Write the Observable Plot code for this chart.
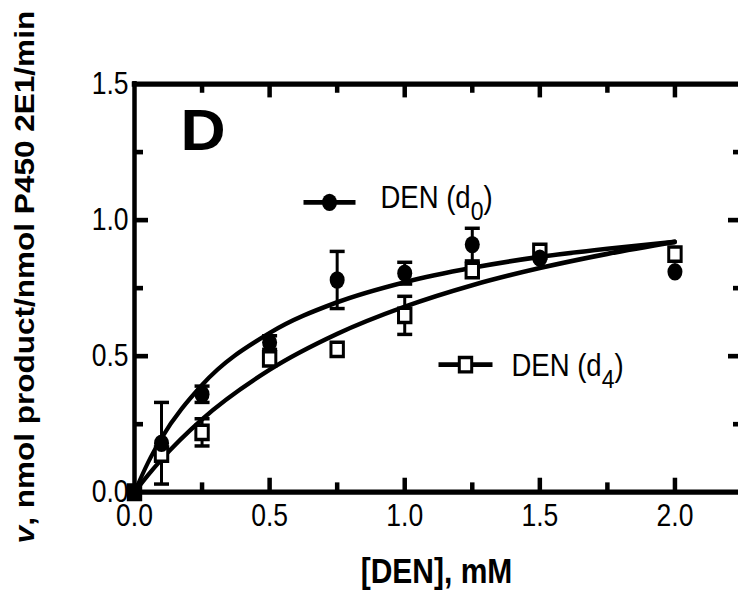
<!DOCTYPE html>
<html>
<head>
<meta charset="utf-8">
<script src="https://cdn.jsdelivr.net/npm/d3@7"></script>
<script src="https://cdn.jsdelivr.net/npm/@observablehq/plot@0.6"></script>
<style>
html, body { margin: 0; padding: 0; background: #fff; overflow: hidden; }
</style>
</head>
<body>
<div id="chart"></div>
<script>
// ---- data ----
const concentrations = [0, 0.1, 0.25, 0.5, 0.75, 1.0, 1.25, 1.5, 2.0];
const d0Mean = [0, 0.18, 0.36, 0.55, 0.78, 0.805, 0.91, 0.86, 0.81];
const d0Err  = [0, 0.15, 0.03, 0.025, 0.105, 0.04, 0.06, 0, 0];
const d4Mean = [0, 0.14, 0.22, 0.49, 0.525, 0.65, 0.815, 0.885, 0.875];
const d4Err  = [0, 0, 0.05, 0, 0, 0.07, 0, 0, 0];

const fitX  = [0, 0.05, 0.1, 0.25, 0.5, 0.75, 1.0, 1.25, 1.5, 1.75, 2.0];
const d0Fit = [0, 0.109, 0.199, 0.394, 0.585, 0.698, 0.772, 0.825, 0.865, 0.895, 0.92];
const d4Fit = [0, 0.063, 0.121, 0.268, 0.45, 0.582, 0.682, 0.761, 0.824, 0.876, 0.92];

const xTickLabels = [0, 0.5, 1.0, 1.5, 2.0];
const yTickLabels = [0, 0.5, 1.0, 1.5];
const xMajorTicks = [0.5, 1.0, 1.5, 2.0];
const xMinorTicks = [0.25, 0.75, 1.25, 1.75];
const yMajorTicks = [0.5, 1.0];
const yMinorTicks = [0.25, 0.75, 1.25];
const seriesLabels = ["DEN (d0)", "DEN (d4)"];
const panelLetter = "D";
const xTitle = "[DEN], mM";
const yTitle = "v, nmol product/nmol P450 2E1/min";

// ---- layout ----
const W = 738, H = 514;           // drawn, then stretched vertically to 596
const mL = 134, mT = 72, mB = 90, mR = 0;
const frameH = H - mT - mB, frameW = W - mL - mR;

const d0 = concentrations.map((x, i) => ({x, y: d0Mean[i], e: d0Err[i]}));
const d4 = concentrations.map((x, i) => ({x, y: d4Mean[i], e: d4Err[i]}));
const f0 = fitX.map((x, i) => ({x, y: d0Fit[i]}));
const f4 = fitX.map((x, i) => ({x, y: d4Fit[i]}));
const errs = [...d0, ...d4].filter(d => d.e > 0);

const hbar = {draw(ctx, size) { const w = Math.sqrt(size / Math.PI); ctx.moveTo(-w, 0); ctx.lineTo(w, 0); }};
const fmt = d3.format(".1f");

const svg = Plot.plot({
  width: W, height: H,
  marginLeft: mL, marginTop: mT, marginBottom: mB, marginRight: mR,
  style: {fontFamily: "'Liberation Sans', Arial, Helvetica, sans-serif", color: "black", background: "white"},
  x: {domain: [0, 2.25], range: [mL, 742], label: null},
  y: {domain: [0, 1.5], label: null},
  marks: [
    Plot.axisX(xTickLabels, {tickSize: 0, tickPadding: 10, tickFormat: fmt, fontSize: 26.5, label: null}),
    Plot.axisY(yTickLabels, {tickSize: 0, tickPadding: 6, tickFormat: fmt, fontSize: 26.5, label: null}),
    // frame
    Plot.ruleY([0, 1.5], {y: d => d, strokeWidth: 4.5, strokeLinecap: "square"}),
    Plot.ruleX([0], {x: d => d, strokeWidth: 4.5, strokeLinecap: "square"}),
    // inward ticks
    Plot.ruleX(xMajorTicks, {x: d => d, insetTop: frameH - 12, strokeWidth: 4.5}),
    Plot.ruleX(xMinorTicks, {x: d => d, insetTop: frameH - 8, strokeWidth: 4.5}),
    Plot.ruleX(xMajorTicks, {x: d => d, insetBottom: frameH - 12, strokeWidth: 4.5}),
    Plot.ruleX(xMinorTicks, {x: d => d, insetBottom: frameH - 8, strokeWidth: 4.5}),
    Plot.ruleY(yMajorTicks, {y: d => d, insetRight: frameW - 14, strokeWidth: 4}),
    Plot.ruleY(yMinorTicks, {y: d => d, insetRight: frameW - 9, strokeWidth: 4}),
    Plot.ruleY(yMajorTicks, {y: d => d, insetLeft: frameW - 10, strokeWidth: 4}),
    Plot.ruleY(yMinorTicks, {y: d => d, insetLeft: frameW - 5, strokeWidth: 4}),
    // fitted curves
    Plot.line(f0, {x: "x", y: "y", curve: "monotone-x", strokeWidth: 4}),
    Plot.line(f4, {x: "x", y: "y", curve: "monotone-x", strokeWidth: 4}),
    // error bars
    Plot.ruleX(errs, {x: "x", y1: d => d.y - d.e, y2: d => d.y + d.e, strokeWidth: 3}),
    Plot.dot(errs, {x: "x", y: d => d.y + d.e, symbol: hbar, r: 7.5, stroke: "black", fill: "none", strokeWidth: 3}),
    Plot.dot(errs, {x: "x", y: d => d.y - d.e, symbol: hbar, r: 7.5, stroke: "black", fill: "none", strokeWidth: 3}),
    // points
    Plot.dot(d4, {x: "x", y: "y", symbol: "square", r: 7, fill: "white", stroke: "black", strokeWidth: 3}),
    Plot.dot(d0, {x: "x", y: "y", symbol: "circle", r: 7.5, fill: "black", stroke: "none"}),
    // legend d0
    Plot.dot([seriesLabels[0]], {frameAnchor: "top-left", dx: 195, dy: 102, symbol: hbar, r: 26, stroke: "black", fill: "none", strokeWidth: 4}),
    Plot.dot([seriesLabels[0]], {frameAnchor: "top-left", dx: 195, dy: 102, symbol: "circle", r: 7.5, fill: "black", stroke: "none"}),
    Plot.text([seriesLabels[0]], {frameAnchor: "top-left", dx: 246, dy: 87.6, lineAnchor: "top", textAnchor: "start", fontSize: 27.5}),
    // legend d4
    Plot.dot([seriesLabels[1]], {frameAnchor: "top-left", dx: 331, dy: 242, symbol: hbar, r: 27, stroke: "black", fill: "none", strokeWidth: 4}),
    Plot.dot([seriesLabels[1]], {frameAnchor: "top-left", dx: 331, dy: 242, symbol: "square", r: 7, fill: "white", stroke: "black", strokeWidth: 3}),
    Plot.text([seriesLabels[1]], {frameAnchor: "top-left", dx: 377, dy: 232.4, lineAnchor: "top", textAnchor: "start", fontSize: 27.5}),
    // panel letter
    Plot.text([panelLetter], {frameAnchor: "top-left", dx: 46, dy: 21, lineAnchor: "top", textAnchor: "start", fontSize: 50, fontWeight: "bold"}),
    // axis titles
    Plot.text([xTitle], {frameAnchor: "bottom", dx: 0, dy: 57, lineAnchor: "top", textAnchor: "middle", fontSize: 30, fontWeight: "bold"}),
    Plot.text([yTitle], {frameAnchor: "left", rotate: -90, dx: 24.3 - mL, dy: -9.5, textAnchor: "middle", lineAnchor: "middle", fontSize: 27.2, fontWeight: "bold"})
  ]
});

// stretch vertically like the reference figure
svg.setAttribute("preserveAspectRatio", "none");
svg.style.width = "738px";
svg.style.height = "596px";
svg.style.maxWidth = "none";

// rich text: subscripts, italic v, wide panel letter
d3.select(svg).selectAll("text").each(function () {
  const t = this.textContent;
  const s = d3.select(this);
  const m = t.match(/^DEN \(d(\d)\)$/);
  if (m) {
    s.text(null);
    s.append("tspan").text("DEN (d");
    s.append("tspan").attr("font-size", 23).attr("dy", 10).text(m[1]);
    s.append("tspan").attr("dy", -10).text(")");
  } else if (t === yTitle) {
    s.text(null);
    s.append("tspan").attr("font-style", "italic").text(yTitle.slice(0, 1));
    s.append("tspan").text(yTitle.slice(1));
  } else if (t === panelLetter) {
    const tr = this.getAttribute("transform") || "";
    this.setAttribute("transform", tr + " scale(1.25,1)");
  }
});

document.getElementById("chart").appendChild(svg);
</script>
</body>
</html>
